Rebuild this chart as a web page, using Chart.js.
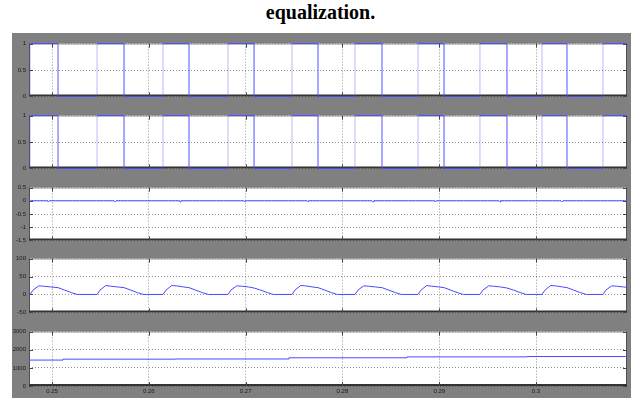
<!DOCTYPE html>
<html>
<head>
<meta charset="utf-8">
<script src="https://cdn.jsdelivr.net/npm/chart.js@4.4.1/dist/chart.umd.min.js"></script>
<style>
  body { margin: 0; background: #fff; }
  #page { position: relative; width: 641px; height: 398px; overflow: hidden; background: #fff; }
  #title { position: absolute; left: 0; top: 1px; width: 641px; text-align: center;
           font: bold 20px 'Liberation Serif', 'Times New Roman', serif; color: #000; }
  #scope { position: absolute; left: 12px; top: 33px; width: 619px; height: 365px; background: #808080; }
  canvas { position: absolute; left: 12px; }
</style>
</head>
<body>
<div id="page">
  <div id="title">equalization.</div>
  <div id="scope"></div>
</div>
<script>
'use strict'

// time axis (s)
let xMin = 0.24762;
let xMax = 0.30940;
let xTicks = [0.25, 0.26, 0.27, 0.28, 0.29, 0.30];

// gate pulses (same on both switches)
let riseTimes = [0.24773, 0.25465, 0.26147, 0.26818, 0.27479, 0.28130, 0.28781, 0.29421, 0.30062, 0.30692];
let fallTimes = [0.25062, 0.25744, 0.26415, 0.27087, 0.27748, 0.28409, 0.29050, 0.29700, 0.30320];
let pulseTicks = [0, 0.5, 1];

// error signal
let errT = [0.24762,
  0.24949, 0.24959, 0.24969, 0.25641, 0.25651, 0.25661, 0.26312, 0.26322, 0.26332,
  0.26984, 0.26994, 0.27004, 0.27635, 0.27645, 0.27655, 0.28306, 0.28316, 0.28326,
  0.28947, 0.28957, 0.28967, 0.29618, 0.29628, 0.29638, 0.30259, 0.30269, 0.30279,
  0.30940];
let errV = [0,
  0, -0.04, 0, 0, -0.04, 0, 0, -0.04, 0,
  0, -0.04, 0, 0, -0.04, 0, 0, -0.04, 0,
  0, -0.04, 0, 0, -0.04, 0, 0, -0.04, 0,
  0];
let errTicks = [-1.5, -1, -0.5, 0, 0.5];

// current ripple
let rippleT = [0.24762,
  0.24773, 0.24803, 0.24863, 0.24913, 0.24983, 0.25062, 0.25132, 0.25202, 0.25262,
  0.25465, 0.25495, 0.25555, 0.25605, 0.25675, 0.25744, 0.25814, 0.25884, 0.25944,
  0.26147, 0.26177, 0.26237, 0.26287, 0.26357, 0.26415, 0.26485, 0.26555, 0.26615,
  0.26818, 0.26848, 0.26908, 0.26958, 0.27028, 0.27087, 0.27157, 0.27227, 0.27287,
  0.27479, 0.27509, 0.27569, 0.27619, 0.27689, 0.27748, 0.27818, 0.27888, 0.27948,
  0.28130, 0.28160, 0.28220, 0.28270, 0.28340, 0.28409, 0.28479, 0.28549, 0.28609,
  0.28781, 0.28811, 0.28871, 0.28921, 0.28991, 0.29050, 0.29120, 0.29190, 0.29250,
  0.29421, 0.29451, 0.29511, 0.29561, 0.29631, 0.29700, 0.29770, 0.29840, 0.29900,
  0.30062, 0.30092, 0.30152, 0.30202, 0.30272, 0.30320, 0.30390, 0.30460, 0.30520,
  0.30692, 0.30722, 0.30782, 0.30832, 0.30902, 0.30940];
let rippleV = [0,
  0, 12, 24, 23, 21, 19, 12, 5, 0,
  0, 12, 25, 23, 21, 19, 12, 5, 0,
  0, 12, 25, 24, 21, 19, 12, 5, 0,
  0, 12, 24, 23, 21, 18, 12, 5, 0,
  0, 12, 25, 24, 21, 19, 12, 5, 0,
  0, 12, 24, 23, 21, 19, 12, 5, 0,
  0, 12, 25, 23, 21, 19, 12, 5, 0,
  0, 12, 24, 23, 21, 18, 12, 5, 0,
  0, 12, 25, 24, 21, 19, 12, 5, 0,
  0, 12, 24, 23, 21, 20];
let rippleTicks = [-50, 0, 50, 100];

// speed
let speedT = [0.24762, 0.25114, 0.26271, 0.27448, 0.28667, 0.29907, 0.30940];
let speedV = [1430, 1480, 1490, 1555, 1605, 1625, 1625];
let speedTicks = [0, 1000, 2000, 3000];

let lineBlue = '#4a4aff';
let edgeBlue = 'rgba(80,80,255,0.4)';
let gridColor = 'rgba(40,40,40,0.5)';
let tickFont = { family: "'Liberation Sans', Arial, sans-serif", size: 6 };

function pulsePoints() {
  let pts = [{ x: xMin, y: 0 }];
  for (let i = 0; i < riseTimes.length; i++) {
    pts.push({ x: riseTimes[i], y: 0 }, { x: riseTimes[i], y: 1 });
    if (i < fallTimes.length) {
      pts.push({ x: fallTimes[i], y: 1 }, { x: fallTimes[i], y: 0 });
    }
  }
  pts.push({ x: xMax, y: 1 });
  return pts;
}

function zipPoints(ts, vs) {
  return ts.map((t, i) => ({ x: t, y: vs[i] }));
}

// white plot area, axes box + small inward tick marks, like the scope
let framePlugin = {
  id: 'frame',
  beforeDraw(chart) {
    let a = chart.chartArea;
    let ctx = chart.ctx;
    ctx.save();
    ctx.fillStyle = '#ffffff';
    ctx.fillRect(a.left, a.top, a.width, a.height);
    ctx.restore();
  },
  beforeDatasetsDraw(chart) {
    let a = chart.chartArea;
    let ctx = chart.ctx;
    ctx.save();
    ctx.lineWidth = 1;
    ctx.strokeStyle = '#a0a0a0';
    ctx.beginPath();
    ctx.moveTo(a.left, a.top + 0.5);
    ctx.lineTo(a.right, a.top + 0.5);
    ctx.stroke();
    ctx.strokeStyle = '#505050';
    ctx.beginPath();
    ctx.moveTo(a.left + 0.5, a.top);
    ctx.lineTo(a.left + 0.5, a.bottom);
    ctx.moveTo(a.right - 0.5, a.top);
    ctx.lineTo(a.right - 0.5, a.bottom);
    ctx.stroke();
    ctx.strokeStyle = '#333';
    ctx.lineWidth = 2;
    ctx.beginPath();
    ctx.moveTo(a.left, a.bottom - 1);
    ctx.lineTo(a.right, a.bottom - 1);
    ctx.stroke();

    ctx.lineWidth = 1;
    ctx.strokeStyle = '#444';
    ctx.beginPath();
    chart.scales.x.ticks.forEach(t => {
      let px = Math.round(chart.scales.x.getPixelForValue(t.value)) + 0.5;
      ctx.moveTo(px, a.top); ctx.lineTo(px, a.top + 4);
      ctx.moveTo(px, a.bottom); ctx.lineTo(px, a.bottom - 4);
    });
    chart.scales.y.ticks.forEach(t => {
      let py = Math.round(chart.scales.y.getPixelForValue(t.value)) + 0.5;
      ctx.moveTo(a.left, py); ctx.lineTo(a.left + 4, py);
      ctx.moveTo(a.right, py); ctx.lineTo(a.right - 4, py);
    });
    ctx.stroke();
    ctx.restore();
  }
};

let panels = [
  { top: 43, bottom: 97, points: pulsePoints(), yTicks: pulseTicks },
  { top: 115, bottom: 169, points: pulsePoints(), yTicks: pulseTicks },
  { top: 187, bottom: 241, points: zipPoints(errT, errV), yTicks: errTicks },
  { top: 258, bottom: 313, points: zipPoints(rippleT, rippleV), yTicks: rippleTicks },
  { top: 331, bottom: 386, points: zipPoints(speedT, speedV), yTicks: speedTicks, stepped: true, showX: true },
];

function makePanel(p) {
  let canvas = document.createElement('canvas');
  let h = (p.bottom - p.top) + 6 + (p.showX ? 12 : 6);
  canvas.width = 619;
  canvas.height = h;
  canvas.style.top = (p.top - 6) + 'px';
  canvas.style.width = '619px';
  canvas.style.height = h + 'px';
  document.getElementById('page').appendChild(canvas);

  let yt = p.yTicks;
  new Chart(canvas.getContext('2d'), {
    type: 'line',
    data: {
      datasets: [{
        data: p.points,
        borderColor: lineBlue,
        borderWidth: 1,
        pointRadius: 0,
        tension: 0,
        stepped: p.stepped || false,
        clip: 3,
        segment: {
          borderColor: ctx => (ctx.p0.parsed.x === ctx.p1.parsed.x ? edgeBlue : lineBlue),
        },
      }],
    },
    options: {
      responsive: false,
      animation: false,
      events: [],
      layout: { padding: { top: 6, bottom: p.showX ? 0 : 6, left: 0, right: 4 } },
      plugins: { legend: { display: false }, tooltip: { enabled: false } },
      scales: {
        x: {
          type: 'linear',
          min: xMin,
          max: xMax,
          afterBuildTicks: s => { s.ticks = xTicks.map(v => ({ value: v })); },
          afterFit: s => { s.height = p.showX ? 12 : 0; },
          grid: { color: gridColor, drawTicks: false },
          border: { display: false, dash: [1, 2] },
          ticks: {
            display: !!p.showX,
            font: tickFont,
            color: '#1a1a1a',
            padding: 2,
            maxRotation: 0,
            callback: v => String(+v.toFixed(2)),
          },
        },
        y: {
          min: yt[0],
          max: yt[yt.length - 1],
          afterBuildTicks: s => { s.ticks = yt.map(v => ({ value: v })); },
          afterFit: s => { s.width = 17; },
          grid: { color: gridColor, drawTicks: false },
          border: { display: false, dash: [1, 2] },
          ticks: { font: tickFont, color: '#1a1a1a', padding: 3, callback: v => String(v) },
        },
      },
    },
    plugins: [framePlugin],
  });
}

panels.forEach(makePanel);
</script>
</body>
</html>
